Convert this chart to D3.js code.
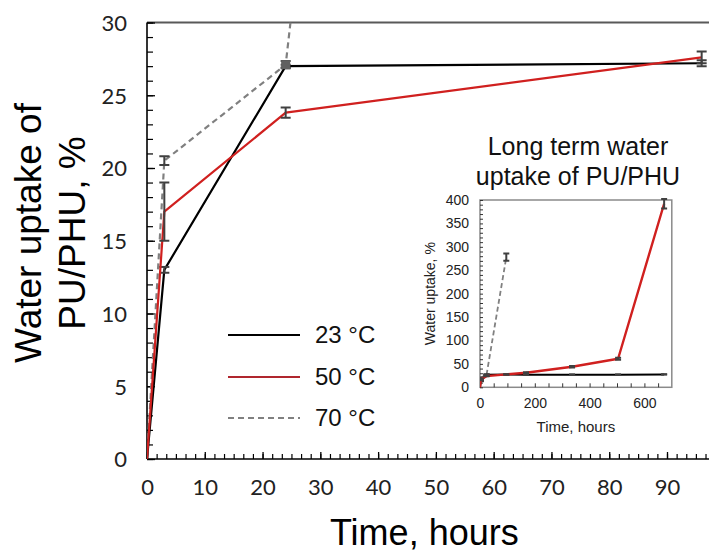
<!DOCTYPE html>
<html>
<head>
<meta charset="utf-8">
<script src="https://cdn.jsdelivr.net/npm/d3@7"></script>
<style>
  html, body { margin: 0; padding: 0; background: #fff; }
  svg { display: block; }
</style>
</head>
<body>
<svg id="chart" width="709" height="557"></svg>
<script>
// Water uptake of PU/PHU at three temperatures
const seriesNames = ["23 °C", "50 °C", "70 °C"];
const seriesColors = ["#000000", "#d0201f", "#808080"];

// Short-term measurements (hours, % uptake, error)
const hours = [0, 3, 24, 96];
const uptake23 = [0, 13.0, 27.0, 27.2];
const err23 = [0, 0.2, 0.1, 0.2];
const uptake50 = [0, 17.0, 23.8, 27.6];
const err50 = [0, 2.0, 0.35, 0.4];
const uptake70 = [0, 20.5, 27.1, 278];
const err70 = [0, 0.3, 0.25, 8];

// Long-term measurements (hours, % uptake, error)
const longHours = [0, 3, 24, 96, 168, 336, 504, 672];
const longUptake23 = [0, 13.0, 27.0, 27.2, 27.0, 27.0, 27.0, 27.5];
const longErr23 = [0, 0.2, 0.1, 0.2, 0.3, 0.3, 0.3, 0.3];
const longUptake50 = [0, 17.0, 23.8, 27.6, 31, 44, 61, 392];
const longErr50 = [0, 2.0, 0.35, 0.4, 1, 1.5, 2, 10];
const longHours70 = [0, 3, 24, 96];
const longUptake70 = [0, 20.5, 27.1, 278];
const longErr70 = [0, 0.3, 0.25, 8];

const mainXTicks = [0, 10, 20, 30, 40, 50, 60, 70, 80, 90];
const mainYTicks = [0, 5, 10, 15, 20, 25, 30];
const insetXTicks = [0, 200, 400, 600];
const insetYTicks = [0, 50, 100, 150, 200, 250, 300, 350, 400];

const svg = d3.select("#chart");
const errColor = "#404040";

// ---------- main panel ----------
const x = d3.scaleLinear().domain([0, 90]).range([147, 667]);
const y = d3.scaleLinear().domain([0, 30]).range([459, 22.5]);
const xEnd = 98;

svg.append("clipPath").attr("id", "mainClip")
  .append("rect")
  .attr("x", x(0)).attr("y", y(30))
  .attr("width", x(xEnd) - x(0)).attr("height", y(0) - y(30));

// top frame line
svg.append("line")
  .attr("x1", x(0)).attr("x2", x(xEnd))
  .attr("y1", y(30)).attr("y2", y(30))
  .attr("stroke", "#595959").attr("stroke-width", 2);

// minor ticks
const xMinor = d3.range(0, xEnd, 10 / 6);
const gxMinor = svg.append("g").attr("transform", `translate(0,${y(0)})`)
  .call(d3.axisBottom(x).tickValues(xMinor).tickSize(-5).tickFormat(""));
const gyMinor = svg.append("g").attr("transform", `translate(${x(0)},0)`)
  .call(d3.axisLeft(y).tickValues(d3.range(0, 31, 1)).tickSize(-6).tickFormat(""));
[gxMinor, gyMinor].forEach(g => {
  g.select(".domain").remove();
  g.selectAll(".tick line").attr("stroke", "#000").attr("stroke-width", 1.2);
});

const gx = svg.append("g").attr("transform", `translate(0,${y(0)})`)
  .call(d3.axisBottom(x).tickValues(mainXTicks).tickSize(-7).tickPadding(20));
gx.select(".domain").attr("d", `M${x(0)},0H${x(xEnd)}`).attr("stroke", "#000").attr("stroke-width", 1.6);

const gy = svg.append("g").attr("transform", `translate(${x(0)},0)`)
  .call(d3.axisLeft(y).tickValues(mainYTicks).tickSize(-8).tickPadding(20));
gy.select(".domain").attr("d", `M0,${y(0)}V${y(30)}`).attr("stroke", "#000").attr("stroke-width", 1.6);

[gx, gy].forEach(g => {
  g.selectAll(".tick line").attr("stroke", "#000").attr("stroke-width", 1.3);
  g.selectAll(".tick text")
    .attr("fill", "#222")
    .style("font-family", "Lato, 'Open Sans', sans-serif")
    .style("font-size", "22px");
});
gx.selectAll(".tick text").attr("dy", "0.71em");
gy.selectAll(".tick text").attr("dy", "0.36em");

const plotMain = svg.append("g").attr("clip-path", "url(#mainClip)");

function drawSeries(g, xs, ys, xArr, yArr, eArr, color, width, dash, capW) {
  const pts = xArr.map((v, i) => [v, yArr[i], eArr[i]]);
  g.append("path")
    .datum(pts)
    .attr("fill", "none")
    .attr("stroke", color)
    .attr("stroke-width", width)
    .attr("stroke-dasharray", dash)
    .attr("stroke-linejoin", "round")
    .attr("d", d3.line().x(d => xs(d[0])).y(d => ys(d[1])));
  const eb = g.append("g").attr("stroke", errColor).attr("stroke-width", 2);
  pts.filter(d => d[2] > 0).forEach(d => {
    const cx = xs(d[0]);
    eb.append("line").attr("x1", cx).attr("x2", cx)
      .attr("y1", ys(d[1] - d[2])).attr("y2", ys(d[1] + d[2]));
    [d[1] - d[2], d[1] + d[2]].forEach(v => {
      eb.append("line").attr("x1", cx - capW / 2).attr("x2", cx + capW / 2)
        .attr("y1", ys(v)).attr("y2", ys(v));
    });
  });
}

drawSeries(plotMain, x, y, hours, uptake70, err70, seriesColors[2], 2.2, "6,4", 10);
drawSeries(plotMain, x, y, hours, uptake23, err23, seriesColors[0], 2.2, null, 10);
drawSeries(plotMain, x, y, hours, uptake50, err50, seriesColors[1], 2.2, null, 10);

// marker on the 70 °C reading at 24 h
plotMain.append("rect")
  .attr("x", x(24) - 4.5).attr("y", y(uptake70[2]) - 4.5)
  .attr("width", 9).attr("height", 9)
  .attr("fill", "#606060");

// axis titles
svg.append("text")
  .attr("x", x(48)).attr("y", 545)
  .attr("text-anchor", "middle")
  .style("font-family", "'Liberation Sans', Arial, sans-serif")
  .style("font-size", "36px")
  .text("Time, hours");

const ylab = svg.append("text")
  .attr("transform", "translate(0,233) rotate(-90)")
  .attr("text-anchor", "middle")
  .style("font-family", "'Liberation Sans', Arial, sans-serif")
  .style("font-size", "37px");
ylab.append("tspan").attr("x", 0).attr("y", 41).text("Water uptake of");
ylab.append("tspan").attr("x", 0).attr("y", 85).text("PU/PHU, %");

// legend
const legY = [335, 377, 418];
seriesNames.forEach((name, i) => {
  svg.append("line")
    .attr("x1", 228).attr("x2", 300)
    .attr("y1", legY[i]).attr("y2", legY[i])
    .attr("stroke", i === 1 ? "#b0262e" : seriesColors[i])
    .attr("stroke-width", 2.2)
    .attr("stroke-dasharray", i === 2 ? "6,4" : null);
  svg.append("text")
    .attr("x", 315).attr("y", legY[i])
    .attr("dy", "0.35em")
    .style("font-family", "'Liberation Sans', Arial, sans-serif")
    .style("font-size", "24px")
    .attr("fill", "#111")
    .text(name);
});

// ---------- inset panel ----------
const xi = d3.scaleLinear().domain([0, 700]).range([480, 671.8]);
const yi = d3.scaleLinear().domain([0, 400]).range([387.3, 200]);

svg.append("rect")
  .attr("x", xi(0)).attr("y", yi(400))
  .attr("width", xi(700) - xi(0)).attr("height", yi(0) - yi(400))
  .attr("fill", "#fff").attr("stroke", "#8a8a8a").attr("stroke-width", 1.5);

const giMinorX = svg.append("g").attr("transform", `translate(0,${yi(0)})`)
  .call(d3.axisBottom(xi).tickValues(d3.range(0, 700, 50)).tickSize(-4).tickFormat(""));
const giMinorY = svg.append("g").attr("transform", `translate(${xi(0)},0)`)
  .call(d3.axisLeft(yi).tickValues(d3.range(0, 401, 10)).tickSize(-3).tickFormat(""));
[giMinorX, giMinorY].forEach(g => {
  g.select(".domain").remove();
  g.selectAll(".tick line").attr("stroke", "#333").attr("stroke-width", 1);
});

const gix = svg.append("g").attr("transform", `translate(0,${yi(0)})`)
  .call(d3.axisBottom(xi).tickValues(insetXTicks).tickSize(0).tickPadding(11));
const giy = svg.append("g").attr("transform", `translate(${xi(0)},0)`)
  .call(d3.axisLeft(yi).tickValues(insetYTicks).tickSize(0).tickPadding(11));
[gix, giy].forEach(g => {
  g.select(".domain").remove();
  g.selectAll(".tick text")
    .attr("fill", "#222")
    .style("font-family", "'Liberation Sans', Arial, sans-serif")
    .style("font-size", "14px");
});

svg.append("clipPath").attr("id", "insetClip")
  .append("rect")
  .attr("x", xi(0)).attr("y", yi(400) - 2)
  .attr("width", xi(700) - xi(0)).attr("height", yi(0) - yi(400) + 4);
const plotInset = svg.append("g").attr("clip-path", "url(#insetClip)");

drawSeries(plotInset, xi, yi, longHours70, longUptake70, longErr70, seriesColors[2], 1.8, "5,3", 6);
drawSeries(plotInset, xi, yi, longHours, longUptake23, longErr23, seriesColors[0], 2, null, 6);
drawSeries(plotInset, xi, yi, longHours, longUptake50, longErr50, seriesColors[1], 2.4, null, 6);

svg.append("text")
  .attr("x", xi(350)).attr("y", 427)
  .attr("dy", "0.35em")
  .attr("text-anchor", "middle")
  .style("font-family", "'Liberation Sans', Arial, sans-serif")
  .style("font-size", "15px")
  .attr("fill", "#222")
  .text("Time, hours");

svg.append("text")
  .attr("transform", `translate(430,${(yi(0) + yi(400)) / 2}) rotate(-90)`)
  .attr("text-anchor", "middle")
  .attr("dy", "0.35em")
  .style("font-family", "'Liberation Sans', Arial, sans-serif")
  .style("font-size", "14px")
  .attr("fill", "#222")
  .text("Water uptake, %");

const title = svg.append("text")
  .attr("text-anchor", "middle")
  .style("font-family", "'Liberation Sans', Arial, sans-serif")
  .style("font-size", "25px")
  .attr("fill", "#111");
title.append("tspan").attr("x", 578).attr("y", 155).text("Long term water");
title.append("tspan").attr("x", 578).attr("y", 185).text("uptake of PU/PHU");
</script>
</body>
</html>
